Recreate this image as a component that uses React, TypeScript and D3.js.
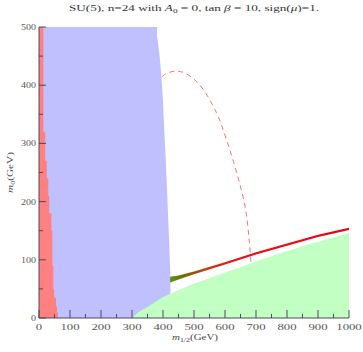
import React from "react";
import * as d3 from "d3";

const W = 363, H = 352;
const M = { left: 39, right: 14, top: 27, bottom: 34 };

const xTicks = [0, 100, 200, 300, 400, 500, 600, 700, 800, 900, 1000];
const yTicks = [0, 100, 200, 300, 400, 500];

// left red region: boundary m1/2 as function of m0
const redM0 = [0, 10, 20, 35, 50, 90, 150, 180, 210, 240, 270, 320, 500];
const redM12 = [61, 58, 55, 49, 46, 43, 40, 33, 30, 25, 20, 14, 10];

// blue region right boundary
const blueM0 = [0, 71, 129, 208, 271, 323, 372, 421, 455, 484, 500];
const blueM12 = [424, 424, 420, 414, 409, 404, 400, 394, 388, 381, 381];

// green region upper boundary
const greenM12 = [300, 320, 350, 400, 450, 500, 600, 700, 800, 900, 1000];
const greenM0 = [0, 10, 19, 36, 48, 59, 78, 97, 115, 131, 146];

// dark-matter band
const bandM12 = [423, 450, 500, 600, 700, 800, 900, 1000];
const bandLow = [61, 66, 75, 92, 109, 124, 139, 151];
const bandHigh = [71, 73, 80, 96, 113, 128, 143, 155];

// dashed contour
const dashM12 = [396, 410, 439, 470, 519, 573, 605, 638, 665, 678, 684];
const dashM0 = [414, 420, 424, 421, 400, 352, 306, 249, 191, 134, 91];

export default function App() {
  const x = d3.scaleLinear().domain([0, 1000]).range([M.left, W - M.right]);
  const y = d3.scaleLinear().domain([0, 500]).range([H - M.bottom, M.top]);

  const line = d3
    .line<[number, number]>()
    .x((d) => x(d[0]))
    .y((d) => y(d[1]));

  const redPts: [number, number][] = [[0, 0]];
  redM0.forEach((m0, i) => redPts.push([redM12[i], m0]));
  redPts.push([0, 500]);
  const redPath = line.curve(d3.curveStepBefore)(redPts) + "Z";

  const bluePts: [number, number][] = [[0, 0]];
  blueM0.forEach((m0, i) => bluePts.push([blueM12[i], m0]));
  bluePts.push([0, 500]);
  const bluePath = line.curve(d3.curveLinear)(bluePts) + "Z";

  const greenPts: [number, number][] = greenM12.map((m, i) => [m, greenM0[i]]);
  greenPts.push([1000, 0]);
  const greenPath = line.curve(d3.curveLinear)(greenPts) + "Z";

  const bandPts: [number, number][] = [
    ...bandM12.map((m, i) => [m, bandHigh[i]] as [number, number]),
    ...bandM12.map((m, i) => [m, bandLow[i]] as [number, number]).reverse(),
  ];
  const bandPath = line.curve(d3.curveLinear)(bandPts) + "Z";

  const dashPath = line.curve(d3.curveCatmullRom)(
    dashM12.map((m, i) => [m, dashM0[i]] as [number, number])
  );

  const axisColor = "#4a4a5a";
  const font = "'Liberation Serif', 'DejaVu Serif', serif";
  const minorX = d3.range(50, 1000, 100);
  const minorY = d3.range(50, 500, 100);

  return (
    <svg
      width={W}
      height={H}
      style={{ position: "absolute", left: 0, top: 0, background: "#fff" }}
      fontFamily={font}
    >
      <defs>
        <linearGradient
          id="bandGrad"
          gradientUnits="userSpaceOnUse"
          x1={x(423)}
          x2={x(1000)}
          y1={0}
          y2={0}
        >
          <stop offset={0} stopColor="#4c9a0a" />
          <stop offset={(470 - 423) / 577} stopColor="#7a6a05" />
          <stop offset={(540 - 423) / 577} stopColor="#c83a10" />
          <stop offset={(640 - 423) / 577} stopColor="#ea0e10" />
          <stop offset={1} stopColor="#ee0010" />
        </linearGradient>
      </defs>
      <path d={bluePath} fill="#c0c0ff" />
      <path d={redPath} fill="#ff8080" />
      <path d={greenPath} fill="#c2ffc2" />
      <path d={bandPath} fill="url(#bandGrad)" />
      <path
        d={dashPath || ""}
        fill="none"
        stroke="#ff6f6f"
        strokeWidth={1}
        strokeDasharray="5,4"
      />
      {/* axes */}
      <line x1={x(0)} x2={x(1000)} y1={y(0)} y2={y(0)} stroke={axisColor} strokeWidth={1} />
      <line x1={x(0)} x2={x(0)} y1={y(0)} y2={y(500)} stroke={axisColor} strokeWidth={1} />
      {xTicks.map((t) => (
        <g key={"xt" + t}>
          <line x1={x(t)} x2={x(t)} y1={y(0)} y2={y(0) - 8} stroke={axisColor} />
          <g transform={`translate(${x(t)}, ${y(0) + 12}) scale(1.5, 1)`}>
            <text textAnchor="middle" fontSize={8.5} fill="#555">
              {t}
            </text>
          </g>
        </g>
      ))}
      {minorX.map((t) => (
        <line key={"xm" + t} x1={x(t)} x2={x(t)} y1={y(0)} y2={y(0) - 4} stroke={axisColor} />
      ))}
      {yTicks.map((t) => (
        <g key={"yt" + t}>
          <line x1={x(0)} x2={x(0) + 7} y1={y(t)} y2={y(t)} stroke={axisColor} />
          <g transform={`translate(${x(0) - 3}, ${y(t) + 3}) scale(1.18, 1)`}>
            <text textAnchor="end" fontSize={8.5} fill="#555">
              {t}
            </text>
          </g>
        </g>
      ))}
      {minorY.map((t) => (
        <line key={"ym" + t} x1={x(0)} x2={x(0) + 4} y1={y(t)} y2={y(t)} stroke={axisColor} />
      ))}
      {/* title */}
      <g transform="translate(194, 11) scale(1.55, 1)">
        <text textAnchor="middle" fontSize={8.5} fill="#333">
          SU(5), n=24 with <tspan fontStyle="italic">A</tspan>
          <tspan fontSize={6} dy={2}>0</tspan>
          <tspan dy={-2}> = 0, tan </tspan>
          <tspan fontStyle="italic">β</tspan>
          <tspan> = 10, sign(</tspan>
          <tspan fontStyle="italic">μ</tspan>
          <tspan>)=1.</tspan>
        </text>
      </g>
      {/* x label */}
      <g transform="translate(195, 340) scale(1.22, 1)">
        <text textAnchor="middle" fontSize={9} fill="#444">
          <tspan fontStyle="italic">m</tspan>
          <tspan fontSize={6.5} dy={2}>1/2</tspan>
          <tspan dy={-2}>(GeV)</tspan>
        </text>
      </g>
      {/* y label */}
      <g transform={`translate(13, ${(y(0) + y(500)) / 2}) rotate(-90) scale(1.25, 1)`}>
        <text textAnchor="middle" fontSize={9} fill="#444">
          <tspan fontStyle="italic">m</tspan>
          <tspan fontSize={6.5} dy={2}>0</tspan>
          <tspan dy={-2}>(GeV)</tspan>
        </text>
      </g>
    </svg>
  );
}
